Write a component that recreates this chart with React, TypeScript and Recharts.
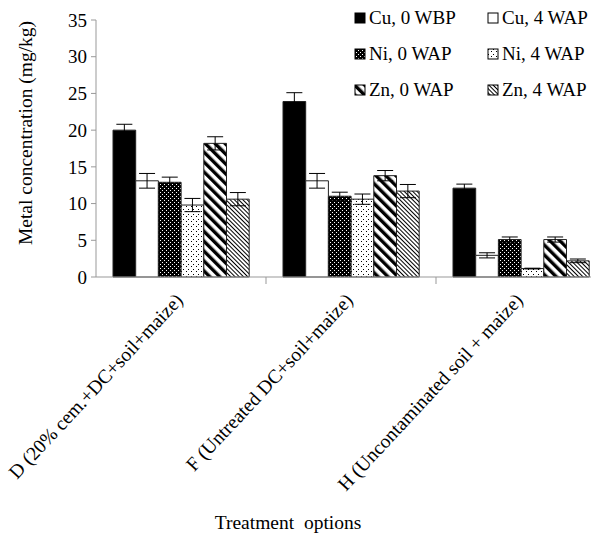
import React from 'react';
import { BarChart, Bar, XAxis, YAxis, ErrorBar, Legend } from 'recharts';

const categories = [
  'D (20% cem.+DC+soil+maize)',
  'F (Untreated DC+soil+maize)',
  'H (Uncontaminated soil + maize)',
];

const cu0 = [20.0, 23.9, 12.1];
const cu0Err = [0.8, 1.2, 0.55];
const cu4 = [13.1, 13.1, 2.95];
const cu4Err = [1.0, 1.0, 0.35];
const ni0 = [12.9, 11.0, 5.1];
const ni0Err = [0.7, 0.55, 0.35];
const ni4 = [9.8, 10.6, 1.15];
const ni4Err = [0.9, 0.7, 0.05];
const zn0 = [18.2, 13.8, 5.1];
const zn0Err = [0.9, 0.7, 0.35];
const zn4 = [10.6, 11.7, 2.2];
const zn4Err = [0.9, 0.9, 0.25];

const yTicks = [0, 5, 10, 15, 20, 25, 30, 35];
const yMinorTicks = [
  0, 1, 2, 3, 4, 5, 6, 7, 8, 9, 10, 11, 12, 13, 14, 15, 16, 17, 18, 19, 20,
  21, 22, 23, 24, 25, 26, 27, 28, 29, 30, 31, 32, 33, 34, 35,
];

const data = categories.map((name, i) => ({
  name,
  cu0: cu0[i],
  cu0Err: cu0Err[i],
  cu4: cu4[i],
  cu4Err: cu4Err[i],
  ni0: ni0[i],
  ni0Err: ni0Err[i],
  ni4: ni4[i],
  ni4Err: ni4Err[i],
  zn0: zn0[i],
  zn0Err: zn0Err[i],
  zn4: zn4[i],
  zn4Err: zn4Err[i],
}));

const series = [
  { key: 'cu0', name: 'Cu, 0 WBP', fill: '#000000' },
  { key: 'cu4', name: 'Cu, 4 WAP', fill: '#ffffff' },
  { key: 'ni0', name: 'Ni, 0 WAP', fill: 'url(#ni0)' },
  { key: 'ni4', name: 'Ni, 4 WAP', fill: 'url(#ni4)' },
  { key: 'zn0', name: 'Zn, 0 WAP', fill: 'url(#zn0)' },
  { key: 'zn4', name: 'Zn, 4 WAP', fill: 'url(#zn4)' },
];

const FONT = '"Liberation Serif", serif';

function Patterns({ prefix = '' }: { prefix?: string }) {
  return (
    <defs>
      <pattern id={prefix + 'ni0'} width="4" height="4" patternUnits="userSpaceOnUse">
        <rect width="4" height="4" fill="#000" />
        <rect x="0" y="0" width="1" height="1" fill="#fff" />
        <rect x="2" y="2" width="1" height="1" fill="#fff" />
      </pattern>
      <pattern id={prefix + 'ni4'} width="5" height="5" patternUnits="userSpaceOnUse">
        <rect width="5" height="5" fill="#fff" />
        <rect x="1" y="1" width="1" height="1" fill="#000" />
        <rect x="3" y="4" width="1" height="1" fill="#000" />
      </pattern>
      <pattern
        id={prefix + 'zn0'}
        width="7"
        height="7"
        patternUnits="userSpaceOnUse"
        patternTransform="rotate(-45)"
      >
        <rect width="7" height="7" fill="#fff" />
        <rect width="3.4" height="7" fill="#000" />
      </pattern>
      <pattern
        id={prefix + 'zn4'}
        width="3"
        height="3"
        patternUnits="userSpaceOnUse"
        patternTransform="rotate(-45)"
      >
        <rect width="3" height="3" fill="#fff" />
        <rect width="1" height="3" fill="#000" />
      </pattern>
    </defs>
  );
}

// label rotated + a small separator tick on the right edge of each group
function CategoryTick({ x, y, payload }: any) {
  const tx = x + 3;
  const ty = y + 24;
  const edge = x + (payload.offset || 0);
  return (
    <g>
      <line x1={edge} y1={y} x2={edge} y2={y + 7} stroke="#999" />
      <text
        x={tx}
        y={ty}
        transform={`rotate(-47, ${tx}, ${ty})`}
        textAnchor="end"
        fontSize={19.5}
        fontFamily={FONT}
        fill="#000"
      >
        {payload.value}
      </text>
    </g>
  );
}

function LegendGrid() {
  const cols = [355, 488];
  const rows = [18, 54, 90];
  return (
    <svg width={240} height={110} style={{ position: 'absolute', left: 0, top: 0, overflow: 'visible' }}>
      <Patterns prefix="lg-" />
      {series.map((s, i) => {
        const cx = cols[i % 2];
        const cy = rows[Math.floor(i / 2)];
        const fill = s.fill.startsWith('url') ? `url(#lg-${s.key})` : s.fill;
        return (
          <g key={s.key}>
            <rect x={cx} y={cy - 5} width={10} height={10} fill={fill} stroke="#000" strokeWidth={1} />
            <text x={cx + 14} y={cy + 6} fontSize={19} fontFamily={FONT} fill="#000">
              {s.name}
            </text>
          </g>
        );
      })}
    </svg>
  );
}

export default function App() {
  return (
    <div
      style={{
        position: 'absolute',
        left: 0,
        top: 0,
        width: 591,
        height: 538,
        overflow: 'hidden',
        background: '#fff',
        fontFamily: FONT,
      }}
    >
      <BarChart
        width={620}
        height={538}
        data={data}
        margin={{ top: 20, right: 14, bottom: 0, left: 0 }}
        barGap={0}
      >
        <Patterns />
        <XAxis
          dataKey="name"
          interval={0}
          height={261}
          tickLine={false}
          tickSize={0}
          tickMargin={0}
          tick={<CategoryTick />}
          axisLine={{ stroke: '#999' }}
          label={{
            content: () => (
              <text x={288} y={529} textAnchor="middle" fontSize={19.5} fontFamily={FONT} fill="#000">
                {'Treatment\u00A0 options'}
              </text>
            ),
          }}
        />
        <YAxis
          domain={[0, 35]}
          ticks={yTicks}
          width={96}
          tickSize={5}
          tickMargin={4}
          stroke="#999"
          tick={{ fill: '#000', fontSize: 19, fontFamily: FONT }}
          label={{
            content: () => (
              <text
                x={32}
                y={133}
                transform="rotate(-90, 32, 133)"
                textAnchor="middle"
                fontSize={19.5}
                fontFamily={FONT}
                fill="#000"
              >
                Metal concentration (mg/kg)
              </text>
            ),
          }}
        />
        <YAxis
          yAxisId="minor"
          domain={[0, 35]}
          ticks={yMinorTicks}
          width={0}
          mirror
          tick={() => <g />}
          tickSize={4}
          axisLine={false}
          stroke="#999"
        />
        <Legend content={() => <LegendGrid />} wrapperStyle={{ top: 0, left: 0, width: 600 }} />
        {series.map((s) => (
          <Bar
            key={s.key}
            dataKey={s.key}
            name={s.name}
            fill={s.fill}
            stroke="#222"
            strokeWidth={1}
            barSize={22.7}
            isAnimationActive={false}
          >
            <ErrorBar dataKey={s.key + 'Err'} width={8} stroke="#000" strokeWidth={1} />
          </Bar>
        ))}
      </BarChart>
    </div>
  );
}
